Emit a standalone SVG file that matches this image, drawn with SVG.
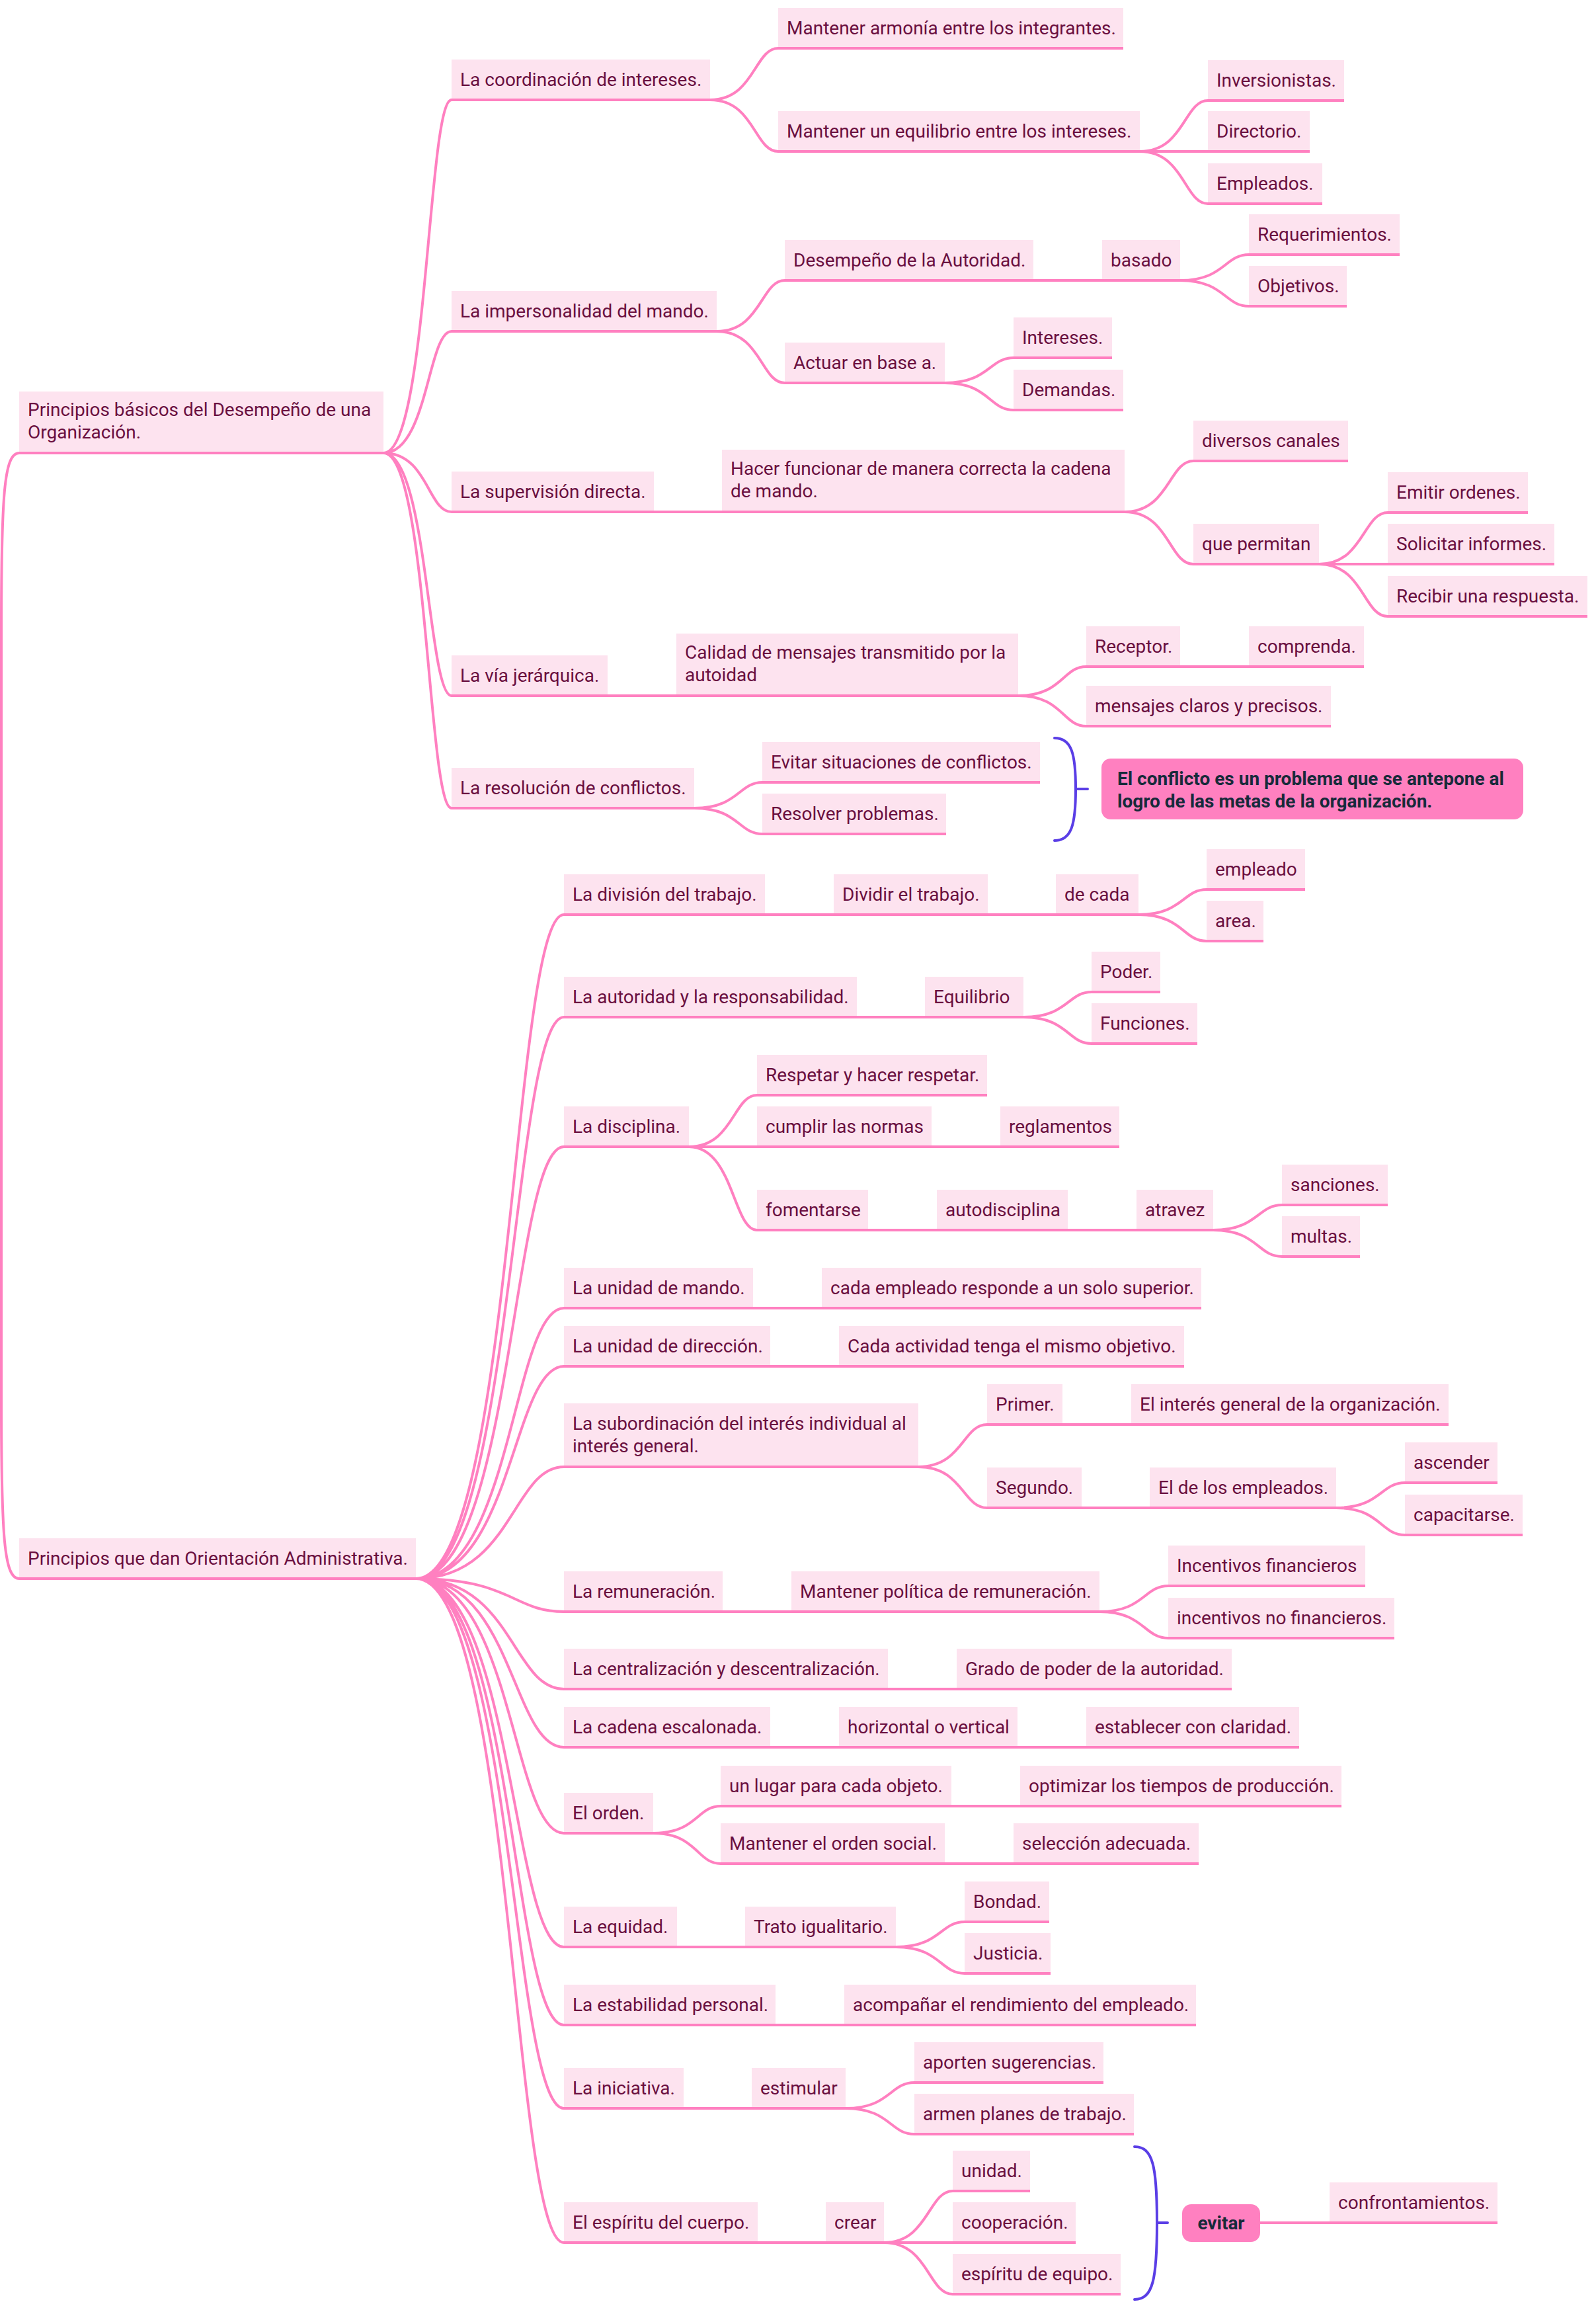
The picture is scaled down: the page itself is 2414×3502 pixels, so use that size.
<svg xmlns="http://www.w3.org/2000/svg" width="2414" height="3502" viewBox="0 0 2414 3502">
<style>
.b{fill:#fde3ef}
.u{stroke:#ff80c0;stroke-width:4;fill:none}
.c{stroke:#ff80c0;stroke-width:4;fill:none}
.k{stroke:#5a3ee6;stroke-width:4;fill:none;stroke-linecap:round}
.t{font-family:Roboto,'Liberation Sans',sans-serif;font-size:28px;fill:#6a0f3f}
.h{font-family:Roboto,'Liberation Sans',sans-serif;font-size:28px;font-weight:bold;fill:#172a3a}
.f{fill:#ff80c0}
</style>
<rect width="2414" height="3502" fill="#ffffff"/>
<g id="connectors">
<path class="c" d="M29 685C6 685 2 750 2 950L2 2122C2 2322 6 2387 29 2387"/>
<path class="c" d="M580 685C647 685 647 151 683 151M580 685C647 685 647 501 683 501M580 685C647 685 647 774 683 774M580 685C647 685 647 1052 683 1052M580 685C647 685 647 1222 683 1222"/>
<path class="c" d="M1074 151C1141 151 1141 73 1177 73M1074 151C1141 151 1141 229 1177 229"/>
<path class="c" d="M1724 229C1791 229 1791 152 1827 152M1724 229H1827M1724 229C1791 229 1791 308 1827 308"/>
<path class="c" d="M1084 501C1151 501 1151 424 1187 424M1084 501C1151 501 1151 579 1187 579M1563 424H1667"/>
<path class="c" d="M1785 424C1852 424 1852 385 1889 385M1785 424C1852 424 1852 463 1889 463"/>
<path class="c" d="M1429 579C1496 579 1496 541 1533 541M1429 579C1496 579 1496 620 1533 620"/>
<path class="c" d="M989 774H1092M1701 774C1768 774 1768 697 1805 697M1701 774C1768 774 1768 853 1805 853"/>
<path class="c" d="M1995 853C2062 853 2062 775 2099 775M1995 853H2099M1995 853C2062 853 2062 932 2099 932"/>
<path class="c" d="M919 1052H1023M1540 1052C1607 1052 1607 1008 1643 1008M1540 1052C1607 1052 1607 1098 1643 1098M1785 1008H1889"/>
<path class="c" d="M1050 1222C1117 1222 1117 1183 1153 1183M1050 1222C1117 1222 1117 1261 1153 1261"/>
<path class="k" d="M1595 1116C1621 1116 1627 1140 1627 1193C1627 1246 1621 1271 1595 1271M1627 1193H1645"/>
<path class="c" d="M629 2387C775 2387 775 1383 853 1383M629 2387C775 2387 775 1538 853 1538M629 2387C775 2387 775 1734 853 1734M629 2387C775 2387 775 1978 853 1978M629 2387C775 2387 775 2066 853 2066M629 2387C775 2387 775 2218 853 2218M629 2387C775 2387 775 2437 853 2437M629 2387C775 2387 775 2554 853 2554M629 2387C775 2387 775 2642 853 2642M629 2387C775 2387 775 2772 853 2772M629 2387C775 2387 775 2944 853 2944M629 2387C775 2387 775 3062 853 3062M629 2387C775 2387 775 3188 853 3188M629 2387C775 2387 775 3391 853 3391"/>
<path class="c" d="M1157 1383H1261M1494 1383H1597M1722 1383C1789 1383 1789 1345 1825 1345M1722 1383C1789 1383 1789 1423 1825 1423"/>
<path class="c" d="M1296 1538H1399M1548 1538C1615 1538 1615 1500 1651 1500M1548 1538C1615 1538 1615 1578 1651 1578"/>
<path class="c" d="M1042 1734C1109 1734 1109 1656 1145 1656M1042 1734H1145M1042 1734C1109 1734 1109 1860 1145 1860M1409 1734H1513"/>
<path class="c" d="M1313 1860H1417M1615 1860H1719M1835 1860C1902 1860 1902 1822 1939 1822M1835 1860C1902 1860 1902 1900 1939 1900"/>
<path class="c" d="M1139 1978H1243M1165 2066H1269"/>
<path class="c" d="M1389 2218C1456 2218 1456 2154 1493 2154M1389 2218C1456 2218 1456 2280 1493 2280M1607 2154H1711M1636 2280H1739"/>
<path class="c" d="M2021 2280C2088 2280 2088 2242 2125 2242M2021 2280C2088 2280 2088 2321 2125 2321"/>
<path class="c" d="M1093 2437H1197M1663 2437C1730 2437 1730 2398 1767 2398M1663 2437C1730 2437 1730 2477 1767 2477"/>
<path class="c" d="M1343 2554H1447M1165 2642H1269M1539 2642H1643"/>
<path class="c" d="M988 2772C1054 2772 1054 2731 1090 2731M988 2772C1054 2772 1054 2818 1090 2818M1439 2731H1543M1429 2818H1533"/>
<path class="c" d="M1024 2944H1127M1355 2944C1422 2944 1422 2906 1459 2906M1355 2944C1422 2944 1422 2984 1459 2984"/>
<path class="c" d="M1173 3062H1277M1034 3188H1137M1279 3188C1346 3188 1346 3149 1383 3149M1279 3188C1346 3188 1346 3227 1383 3227"/>
<path class="c" d="M1146 3391H1249M1337 3391C1404 3391 1404 3313 1441 3313M1337 3391H1441M1337 3391C1404 3391 1404 3469 1441 3469"/>
<path class="k" d="M1716 3246C1744 3246 1750 3276 1750 3361C1750 3446 1744 3477 1716 3477M1750 3361H1766"/>
<path class="c" d="M1906 3361H2011"/>
</g>
<g id="r1"><rect class="b" x="29" y="592" width="551" height="93"/><path class="u" d="M29 685H580"/><text class="t" x="42" y="629">Principios básicos del Desempeño de una</text><text class="t" x="42" y="663">Organización.</text></g>
<g id="a1"><rect class="b" x="683" y="90" width="391" height="61"/><path class="u" d="M683 151H1074"/><text class="t" x="696" y="130">La coordinación de intereses.</text></g>
<g id="a1a"><rect class="b" x="1177" y="12" width="522" height="61"/><path class="u" d="M1177 73H1699"/><text class="t" x="1190" y="52">Mantener armonía entre los integrantes.</text></g>
<g id="a1b"><rect class="b" x="1177" y="168" width="547" height="61"/><path class="u" d="M1177 229H1724"/><text class="t" x="1190" y="208">Mantener un equilibrio entre los intereses.</text></g>
<g id="inv"><rect class="b" x="1827" y="91" width="206" height="61"/><path class="u" d="M1827 152H2033"/><text class="t" x="1840" y="131">Inversionistas.</text></g>
<g id="dir"><rect class="b" x="1827" y="168" width="154" height="61"/><path class="u" d="M1827 229H1981"/><text class="t" x="1840" y="208">Directorio.</text></g>
<g id="emp"><rect class="b" x="1827" y="247" width="173" height="61"/><path class="u" d="M1827 308H2000"/><text class="t" x="1840" y="287">Empleados.</text></g>
<g id="a2"><rect class="b" x="683" y="440" width="401" height="61"/><path class="u" d="M683 501H1084"/><text class="t" x="696" y="480">La impersonalidad del mando.</text></g>
<g id="des"><rect class="b" x="1187" y="363" width="376" height="61"/><path class="u" d="M1187 424H1563"/><text class="t" x="1200" y="403">Desempeño de la Autoridad.</text></g>
<g id="bas"><rect class="b" x="1667" y="363" width="118" height="61"/><path class="u" d="M1667 424H1785"/><text class="t" x="1680" y="403">basado</text></g>
<g id="req"><rect class="b" x="1889" y="324" width="228" height="61"/><path class="u" d="M1889 385H2117"/><text class="t" x="1902" y="364">Requerimientos.</text></g>
<g id="obj"><rect class="b" x="1889" y="402" width="148" height="61"/><path class="u" d="M1889 463H2037"/><text class="t" x="1902" y="442">Objetivos.</text></g>
<g id="act"><rect class="b" x="1187" y="518" width="242" height="61"/><path class="u" d="M1187 579H1429"/><text class="t" x="1200" y="558">Actuar en base a.</text></g>
<g id="int"><rect class="b" x="1533" y="480" width="149" height="61"/><path class="u" d="M1533 541H1682"/><text class="t" x="1546" y="520">Intereses.</text></g>
<g id="dem"><rect class="b" x="1533" y="559" width="166" height="61"/><path class="u" d="M1533 620H1699"/><text class="t" x="1546" y="599">Demandas.</text></g>
<g id="a3"><rect class="b" x="683" y="713" width="306" height="61"/><path class="u" d="M683 774H989"/><text class="t" x="696" y="753">La supervisión directa.</text></g>
<g id="hac"><rect class="b" x="1092" y="680" width="609" height="94"/><path class="u" d="M1092 774H1701"/><text class="t" x="1105" y="718">Hacer funcionar de manera correcta la cadena</text><text class="t" x="1105" y="752">de mando.</text></g>
<g id="div"><rect class="b" x="1805" y="636" width="234" height="61"/><path class="u" d="M1805 697H2039"/><text class="t" x="1818" y="676">diversos canales</text></g>
<g id="qp"><rect class="b" x="1805" y="792" width="190" height="61"/><path class="u" d="M1805 853H1995"/><text class="t" x="1818" y="832">que permitan</text></g>
<g id="emi"><rect class="b" x="2099" y="714" width="212" height="61"/><path class="u" d="M2099 775H2311"/><text class="t" x="2112" y="754">Emitir ordenes.</text></g>
<g id="sol"><rect class="b" x="2099" y="792" width="252" height="61"/><path class="u" d="M2099 853H2351"/><text class="t" x="2112" y="832">Solicitar informes.</text></g>
<g id="rec"><rect class="b" x="2099" y="871" width="302" height="61"/><path class="u" d="M2099 932H2401"/><text class="t" x="2112" y="911">Recibir una respuesta.</text></g>
<g id="a4"><rect class="b" x="683" y="991" width="236" height="61"/><path class="u" d="M683 1052H919"/><text class="t" x="696" y="1031">La vía jerárquica.</text></g>
<g id="cal"><rect class="b" x="1023" y="958" width="517" height="94"/><path class="u" d="M1023 1052H1540"/><text class="t" x="1036" y="996">Calidad de mensajes transmitido por la</text><text class="t" x="1036" y="1030">autoidad</text></g>
<g id="rcp"><rect class="b" x="1643" y="947" width="142" height="61"/><path class="u" d="M1643 1008H1785"/><text class="t" x="1656" y="987">Receptor.</text></g>
<g id="com"><rect class="b" x="1889" y="947" width="174" height="61"/><path class="u" d="M1889 1008H2063"/><text class="t" x="1902" y="987">comprenda.</text></g>
<g id="men"><rect class="b" x="1643" y="1037" width="370" height="61"/><path class="u" d="M1643 1098H2013"/><text class="t" x="1656" y="1077">mensajes claros y precisos.</text></g>
<g id="a5"><rect class="b" x="683" y="1161" width="367" height="61"/><path class="u" d="M683 1222H1050"/><text class="t" x="696" y="1201">La resolución de conflictos.</text></g>
<g id="evi"><rect class="b" x="1153" y="1122" width="420" height="61"/><path class="u" d="M1153 1183H1573"/><text class="t" x="1166" y="1162">Evitar situaciones de conflictos.</text></g>
<g id="res"><rect class="b" x="1153" y="1200" width="278" height="61"/><path class="u" d="M1153 1261H1431"/><text class="t" x="1166" y="1240">Resolver problemas.</text></g>
<g id="callout1"><rect class="f" x="1666" y="1147" width="638" height="92" rx="14"/><text class="h" x="1690" y="1187">El conflicto es un problema que se antepone al</text><text class="h" x="1690" y="1221">logro de las metas de la organización.</text></g>
<g id="r2"><rect class="b" x="29" y="2326" width="600" height="61"/><path class="u" d="M29 2387H629"/><text class="t" x="42" y="2366">Principios que dan Orientación Administrativa.</text></g>
<g id="b1"><rect class="b" x="853" y="1322" width="304" height="61"/><path class="u" d="M853 1383H1157"/><text class="t" x="866" y="1362">La división del trabajo.</text></g>
<g id="dvt"><rect class="b" x="1261" y="1322" width="233" height="61"/><path class="u" d="M1261 1383H1494"/><text class="t" x="1274" y="1362">Dividir el trabajo.</text></g>
<g id="dcd"><rect class="b" x="1597" y="1322" width="125" height="61"/><path class="u" d="M1597 1383H1722"/><text class="t" x="1610" y="1362">de cada</text></g>
<g id="empl"><rect class="b" x="1825" y="1284" width="149" height="61"/><path class="u" d="M1825 1345H1974"/><text class="t" x="1838" y="1324">empleado</text></g>
<g id="area"><rect class="b" x="1825" y="1362" width="86" height="61"/><path class="u" d="M1825 1423H1911"/><text class="t" x="1838" y="1402">area.</text></g>
<g id="b2"><rect class="b" x="853" y="1477" width="443" height="61"/><path class="u" d="M853 1538H1296"/><text class="t" x="866" y="1517">La autoridad y la responsabilidad.</text></g>
<g id="eq"><rect class="b" x="1399" y="1477" width="149" height="61"/><path class="u" d="M1399 1538H1548"/><text class="t" x="1412" y="1517">Equilibrio</text></g>
<g id="pod"><rect class="b" x="1651" y="1439" width="104" height="61"/><path class="u" d="M1651 1500H1755"/><text class="t" x="1664" y="1479">Poder.</text></g>
<g id="fun"><rect class="b" x="1651" y="1517" width="160" height="61"/><path class="u" d="M1651 1578H1811"/><text class="t" x="1664" y="1557">Funciones.</text></g>
<g id="b3"><rect class="b" x="853" y="1673" width="189" height="61"/><path class="u" d="M853 1734H1042"/><text class="t" x="866" y="1713">La disciplina.</text></g>
<g id="rsp"><rect class="b" x="1145" y="1595" width="348" height="61"/><path class="u" d="M1145 1656H1493"/><text class="t" x="1158" y="1635">Respetar y hacer respetar.</text></g>
<g id="cum"><rect class="b" x="1145" y="1673" width="264" height="61"/><path class="u" d="M1145 1734H1409"/><text class="t" x="1158" y="1713">cumplir las normas</text></g>
<g id="reg"><rect class="b" x="1513" y="1673" width="180" height="61"/><path class="u" d="M1513 1734H1693"/><text class="t" x="1526" y="1713">reglamentos</text></g>
<g id="fom"><rect class="b" x="1145" y="1799" width="168" height="61"/><path class="u" d="M1145 1860H1313"/><text class="t" x="1158" y="1839">fomentarse</text></g>
<g id="aut"><rect class="b" x="1417" y="1799" width="198" height="61"/><path class="u" d="M1417 1860H1615"/><text class="t" x="1430" y="1839">autodisciplina</text></g>
<g id="atr"><rect class="b" x="1719" y="1799" width="116" height="61"/><path class="u" d="M1719 1860H1835"/><text class="t" x="1732" y="1839">atravez</text></g>
<g id="san"><rect class="b" x="1939" y="1761" width="160" height="61"/><path class="u" d="M1939 1822H2099"/><text class="t" x="1952" y="1801">sanciones.</text></g>
<g id="mul"><rect class="b" x="1939" y="1839" width="118" height="61"/><path class="u" d="M1939 1900H2057"/><text class="t" x="1952" y="1879">multas.</text></g>
<g id="b4"><rect class="b" x="853" y="1917" width="286" height="61"/><path class="u" d="M853 1978H1139"/><text class="t" x="866" y="1957">La unidad de mando.</text></g>
<g id="cer"><rect class="b" x="1243" y="1917" width="574" height="61"/><path class="u" d="M1243 1978H1817"/><text class="t" x="1256" y="1957">cada empleado responde a un solo superior.</text></g>
<g id="b5"><rect class="b" x="853" y="2005" width="312" height="61"/><path class="u" d="M853 2066H1165"/><text class="t" x="866" y="2045">La unidad de dirección.</text></g>
<g id="cao"><rect class="b" x="1269" y="2005" width="522" height="61"/><path class="u" d="M1269 2066H1791"/><text class="t" x="1282" y="2045">Cada actividad tenga el mismo objetivo.</text></g>
<g id="b6"><rect class="b" x="853" y="2122" width="536" height="96"/><path class="u" d="M853 2218H1389"/><text class="t" x="866" y="2162">La subordinación del interés individual al</text><text class="t" x="866" y="2196">interés general.</text></g>
<g id="pri"><rect class="b" x="1493" y="2093" width="114" height="61"/><path class="u" d="M1493 2154H1607"/><text class="t" x="1506" y="2133">Primer.</text></g>
<g id="eig"><rect class="b" x="1711" y="2093" width="480" height="61"/><path class="u" d="M1711 2154H2191"/><text class="t" x="1724" y="2133">El interés general de la organización.</text></g>
<g id="seg"><rect class="b" x="1493" y="2219" width="143" height="61"/><path class="u" d="M1493 2280H1636"/><text class="t" x="1506" y="2259">Segundo.</text></g>
<g id="eld"><rect class="b" x="1739" y="2219" width="282" height="61"/><path class="u" d="M1739 2280H2021"/><text class="t" x="1752" y="2259">El de los empleados.</text></g>
<g id="asc"><rect class="b" x="2125" y="2181" width="140" height="61"/><path class="u" d="M2125 2242H2265"/><text class="t" x="2138" y="2221">ascender</text></g>
<g id="cap"><rect class="b" x="2125" y="2260" width="178" height="61"/><path class="u" d="M2125 2321H2303"/><text class="t" x="2138" y="2300">capacitarse.</text></g>
<g id="b7"><rect class="b" x="853" y="2376" width="240" height="61"/><path class="u" d="M853 2437H1093"/><text class="t" x="866" y="2416">La remuneración.</text></g>
<g id="mpr"><rect class="b" x="1197" y="2376" width="466" height="61"/><path class="u" d="M1197 2437H1663"/><text class="t" x="1210" y="2416">Mantener política de remuneración.</text></g>
<g id="inf"><rect class="b" x="1767" y="2337" width="298" height="61"/><path class="u" d="M1767 2398H2065"/><text class="t" x="1780" y="2377">Incentivos financieros</text></g>
<g id="inn"><rect class="b" x="1767" y="2416" width="342" height="61"/><path class="u" d="M1767 2477H2109"/><text class="t" x="1780" y="2456">incentivos no financieros.</text></g>
<g id="b8"><rect class="b" x="853" y="2493" width="490" height="61"/><path class="u" d="M853 2554H1343"/><text class="t" x="866" y="2533">La centralización y descentralización.</text></g>
<g id="gra"><rect class="b" x="1447" y="2493" width="416" height="61"/><path class="u" d="M1447 2554H1863"/><text class="t" x="1460" y="2533">Grado de poder de la autoridad.</text></g>
<g id="b9"><rect class="b" x="853" y="2581" width="312" height="61"/><path class="u" d="M853 2642H1165"/><text class="t" x="866" y="2621">La cadena escalonada.</text></g>
<g id="hov"><rect class="b" x="1269" y="2581" width="270" height="61"/><path class="u" d="M1269 2642H1539"/><text class="t" x="1282" y="2621">horizontal o vertical</text></g>
<g id="ecc"><rect class="b" x="1643" y="2581" width="322" height="61"/><path class="u" d="M1643 2642H1965"/><text class="t" x="1656" y="2621">establecer con claridad.</text></g>
<g id="b10"><rect class="b" x="853" y="2711" width="135" height="61"/><path class="u" d="M853 2772H988"/><text class="t" x="866" y="2751">El orden.</text></g>
<g id="ulc"><rect class="b" x="1090" y="2670" width="349" height="61"/><path class="u" d="M1090 2731H1439"/><text class="t" x="1103" y="2710">un lugar para cada objeto.</text></g>
<g id="opt"><rect class="b" x="1543" y="2670" width="486" height="61"/><path class="u" d="M1543 2731H2029"/><text class="t" x="1556" y="2710">optimizar los tiempos de producción.</text></g>
<g id="meo"><rect class="b" x="1090" y="2757" width="339" height="61"/><path class="u" d="M1090 2818H1429"/><text class="t" x="1103" y="2797">Mantener el orden social.</text></g>
<g id="sel"><rect class="b" x="1533" y="2757" width="280" height="61"/><path class="u" d="M1533 2818H1813"/><text class="t" x="1546" y="2797">selección adecuada.</text></g>
<g id="b11"><rect class="b" x="853" y="2883" width="171" height="61"/><path class="u" d="M853 2944H1024"/><text class="t" x="866" y="2923">La equidad.</text></g>
<g id="tra"><rect class="b" x="1127" y="2883" width="228" height="61"/><path class="u" d="M1127 2944H1355"/><text class="t" x="1140" y="2923">Trato igualitario.</text></g>
<g id="bon"><rect class="b" x="1459" y="2845" width="128" height="61"/><path class="u" d="M1459 2906H1587"/><text class="t" x="1472" y="2885">Bondad.</text></g>
<g id="jus"><rect class="b" x="1459" y="2923" width="130" height="61"/><path class="u" d="M1459 2984H1589"/><text class="t" x="1472" y="2963">Justicia.</text></g>
<g id="b12"><rect class="b" x="853" y="3001" width="320" height="61"/><path class="u" d="M853 3062H1173"/><text class="t" x="866" y="3041">La estabilidad personal.</text></g>
<g id="aco"><rect class="b" x="1277" y="3001" width="532" height="61"/><path class="u" d="M1277 3062H1809"/><text class="t" x="1290" y="3041">acompañar el rendimiento del empleado.</text></g>
<g id="b13"><rect class="b" x="853" y="3127" width="181" height="61"/><path class="u" d="M853 3188H1034"/><text class="t" x="866" y="3167">La iniciativa.</text></g>
<g id="est"><rect class="b" x="1137" y="3127" width="142" height="61"/><path class="u" d="M1137 3188H1279"/><text class="t" x="1150" y="3167">estimular</text></g>
<g id="apo"><rect class="b" x="1383" y="3088" width="286" height="61"/><path class="u" d="M1383 3149H1669"/><text class="t" x="1396" y="3128">aporten sugerencias.</text></g>
<g id="arm"><rect class="b" x="1383" y="3166" width="332" height="61"/><path class="u" d="M1383 3227H1715"/><text class="t" x="1396" y="3206">armen planes de trabajo.</text></g>
<g id="b14"><rect class="b" x="853" y="3330" width="293" height="61"/><path class="u" d="M853 3391H1146"/><text class="t" x="866" y="3370">El espíritu del cuerpo.</text></g>
<g id="cre"><rect class="b" x="1249" y="3330" width="88" height="61"/><path class="u" d="M1249 3391H1337"/><text class="t" x="1262" y="3370">crear</text></g>
<g id="uni"><rect class="b" x="1441" y="3252" width="117" height="61"/><path class="u" d="M1441 3313H1558"/><text class="t" x="1454" y="3292">unidad.</text></g>
<g id="coo"><rect class="b" x="1441" y="3330" width="186" height="61"/><path class="u" d="M1441 3391H1627"/><text class="t" x="1454" y="3370">cooperación.</text></g>
<g id="esp"><rect class="b" x="1441" y="3408" width="254" height="61"/><path class="u" d="M1441 3469H1695"/><text class="t" x="1454" y="3448">espíritu de equipo.</text></g>
<g id="evitar"><rect class="f" x="1788" y="3333" width="118" height="57" rx="14"/><text class="h" x="1847" y="3371" text-anchor="middle">evitar</text></g>
<g id="con"><rect class="b" x="2011" y="3300" width="254" height="61"/><path class="u" d="M2011 3361H2265"/><text class="t" x="2024" y="3340">confrontamientos.</text></g>
</svg>
